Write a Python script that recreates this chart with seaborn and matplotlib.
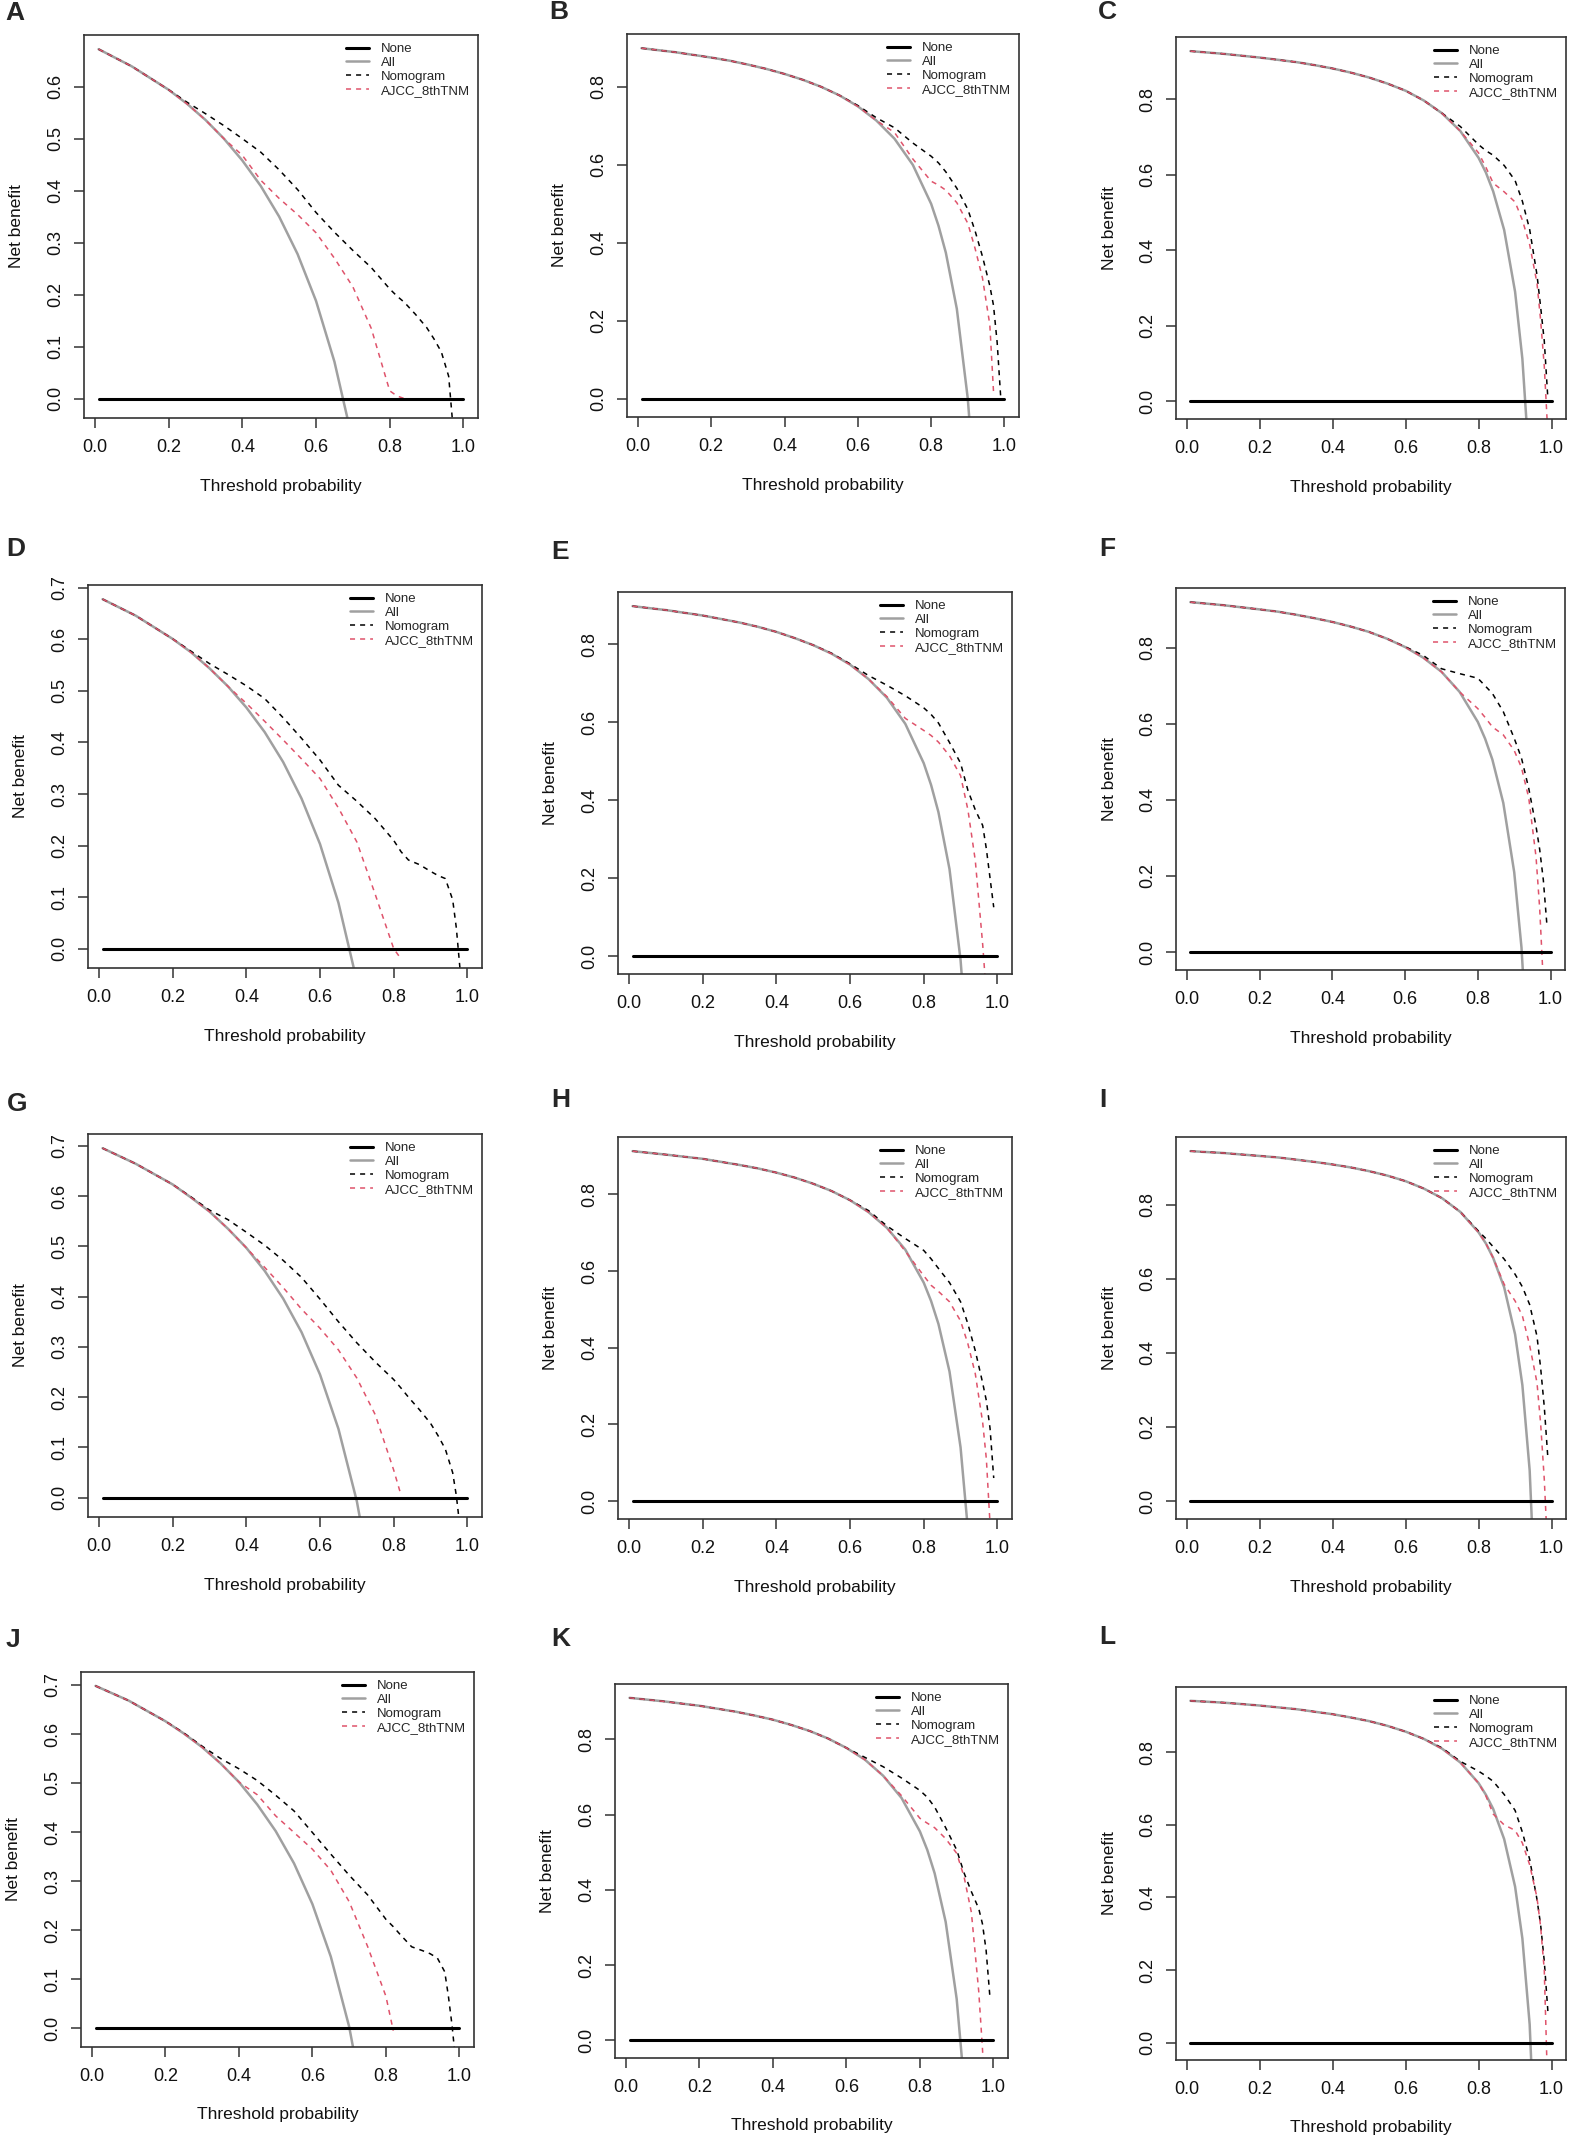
import numpy as np
import pandas as pd
import matplotlib
matplotlib.use("Agg")
import matplotlib.pyplot as plt
import seaborn as sns

N = np.nan

# ---------------- data ----------------
THRESHOLDS = [0.01, 0.1, 0.2, 0.25, 0.3, 0.35, 0.4, 0.45, 0.5, 0.55, 0.6, 0.65, 0.7,
              0.75, 0.8, 0.82, 0.84, 0.87, 0.9, 0.92, 0.94, 0.96, 0.97, 0.98, 0.99, 1.0]
SERIES = ["None", "All", "Nomogram", "AJCC_8thTNM"]
PANELS = ["A", "B", "C", "D", "E", "F", "G", "H", "I", "J", "K", "L"]

# Panel A
ALL_A = [0.672, 0.639, 0.594, 0.567, 0.536, 0.500, 0.458, 0.409, 0.350, 0.278, 0.188, 0.071, -0.083,
         N, N, N, N, N, N, N, N, N, N, N, N, N]
NOM_A = [0.672, 0.639, 0.594, 0.570, 0.548, 0.525, 0.500, 0.474, 0.440, 0.402, 0.358, 0.320, 0.285,
         0.252, 0.211, 0.197, 0.185, 0.162, 0.137, 0.115, 0.090, 0.043, -0.040, N, N, N]
AJCC_A = [0.672, 0.639, 0.594, 0.567, 0.536, 0.500, 0.468, 0.420, 0.385, 0.354, 0.319, 0.270, 0.215,
          0.135, 0.015, 0.005, 0.0, N, N, N, N, N, N, N, N, N]
# Panel B
ALL_B = [0.899, 0.889, 0.875, 0.867, 0.857, 0.846, 0.833, 0.818, 0.800, 0.778, 0.750, 0.714, 0.667,
         0.600, 0.500, 0.444, 0.375, 0.231, 0.000, -0.250, N, N, N, N, N, N]
NOM_B = [0.899, 0.889, 0.875, 0.867, 0.857, 0.846, 0.833, 0.818, 0.800, 0.778, 0.752, 0.721, 0.695,
         0.656, 0.622, 0.605, 0.582, 0.540, 0.486, 0.430, 0.365, 0.290, 0.240, 0.145, 0.000, N]
AJCC_B = [0.899, 0.889, 0.875, 0.867, 0.857, 0.846, 0.833, 0.818, 0.800, 0.778, 0.750, 0.714, 0.683,
          0.615, 0.558, 0.548, 0.535, 0.503, 0.450, 0.385, 0.310, 0.190, 0.020, N, N, N]
# Panel C
ALL_C = [0.928, 0.921, 0.911, 0.905, 0.899, 0.891, 0.882, 0.871, 0.858, 0.842, 0.823, 0.797, 0.763,
         0.716, 0.645, 0.606, 0.556, 0.454, 0.290, 0.112, -0.183, N, N, N, N, N]
NOM_C = [0.928, 0.921, 0.911, 0.905, 0.899, 0.891, 0.882, 0.871, 0.858, 0.842, 0.823, 0.797, 0.763,
         0.728, 0.680, 0.664, 0.652, 0.625, 0.585, 0.530, 0.455, 0.335, 0.250, 0.160, 0.005, N]
AJCC_C = [0.928, 0.921, 0.911, 0.905, 0.899, 0.891, 0.882, 0.871, 0.858, 0.842, 0.823, 0.797, 0.763,
          0.716, 0.658, 0.620, 0.578, 0.555, 0.528, 0.480, 0.415, 0.313, 0.215, 0.093, -0.090, N]
# Panel D
ALL_D = [0.678, 0.646, 0.601, 0.575, 0.544, 0.509, 0.468, 0.420, 0.362, 0.291, 0.203, 0.089, -0.063,
         N, N, N, N, N, N, N, N, N, N, N, N, N]
NOM_D = [0.678, 0.646, 0.601, 0.577, 0.553, 0.532, 0.510, 0.485, 0.448, 0.408, 0.366, 0.317, 0.286,
         0.252, 0.210, 0.188, 0.172, 0.163, 0.150, 0.142, 0.136, 0.095, 0.040, -0.040, N, N]
AJCC_D = [0.678, 0.646, 0.601, 0.575, 0.544, 0.509, 0.476, 0.441, 0.405, 0.368, 0.330, 0.273, 0.207,
          0.105, 0.0, -0.020, N, N, N, N, N, N, N, N, N, N]
# Panel E
ALL_E = [0.898, 0.888, 0.874, 0.865, 0.856, 0.845, 0.832, 0.816, 0.798, 0.776, 0.748, 0.711, 0.663,
         0.596, 0.495, 0.439, 0.369, 0.223, -0.010, -0.260, N, N, N, N, N, N]
NOM_E = [0.898, 0.888, 0.874, 0.865, 0.856, 0.845, 0.832, 0.816, 0.798, 0.777, 0.750, 0.720, 0.695,
         0.668, 0.637, 0.620, 0.598, 0.548, 0.495, 0.425, 0.375, 0.335, 0.275, 0.200, 0.125, N]
AJCC_E = [0.898, 0.888, 0.874, 0.865, 0.856, 0.845, 0.832, 0.816, 0.798, 0.776, 0.748, 0.711, 0.666,
          0.610, 0.579, 0.566, 0.549, 0.514, 0.463, 0.375, 0.245, 0.030, -0.100, N, N, N]
# Panel F
ALL_F = [0.920, 0.912, 0.901, 0.895, 0.887, 0.878, 0.868, 0.856, 0.842, 0.824, 0.802, 0.774, 0.737,
         0.684, 0.605, 0.561, 0.506, 0.392, 0.210, 0.012, -0.317, N, N, N, N, N]
NOM_F = [0.920, 0.912, 0.901, 0.895, 0.887, 0.878, 0.868, 0.856, 0.842, 0.824, 0.803, 0.780, 0.745,
         0.732, 0.720, 0.700, 0.680, 0.632, 0.562, 0.510, 0.430, 0.330, 0.270, 0.190, 0.070, N]
AJCC_F = [0.920, 0.912, 0.901, 0.895, 0.887, 0.878, 0.868, 0.856, 0.842, 0.824, 0.802, 0.774, 0.737,
          0.684, 0.640, 0.617, 0.592, 0.571, 0.530, 0.485, 0.405, 0.250, 0.115, -0.080, N, N]
# Panel G
ALL_G = [0.695, 0.664, 0.623, 0.597, 0.569, 0.535, 0.497, 0.451, 0.396, 0.329, 0.245, 0.137, -0.007,
         -0.208, N, N, N, N, N, N, N, N, N, N, N, N]
NOM_G = [0.695, 0.664, 0.623, 0.598, 0.572, 0.553, 0.528, 0.502, 0.472, 0.438, 0.395, 0.350, 0.308,
         0.270, 0.235, 0.218, 0.200, 0.175, 0.148, 0.124, 0.097, 0.050, 0.004, -0.060, N, N]
AJCC_G = [0.695, 0.664, 0.623, 0.597, 0.569, 0.535, 0.497, 0.458, 0.418, 0.375, 0.337, 0.294, 0.238,
          0.165, 0.055, 0.005, N, N, N, N, N, N, N, N, N, N]
# Panel H
ALL_H = [0.913, 0.904, 0.893, 0.885, 0.877, 0.868, 0.857, 0.844, 0.828, 0.809, 0.785, 0.754, 0.713,
         0.656, 0.570, 0.522, 0.462, 0.338, 0.140, -0.075, N, N, N, N, N, N]
NOM_H = [0.913, 0.904, 0.893, 0.885, 0.877, 0.868, 0.857, 0.844, 0.828, 0.809, 0.785, 0.758, 0.718,
         0.685, 0.654, 0.632, 0.607, 0.570, 0.520, 0.462, 0.392, 0.308, 0.262, 0.190, 0.060, N]
AJCC_H = [0.913, 0.904, 0.893, 0.885, 0.877, 0.868, 0.857, 0.844, 0.828, 0.809, 0.785, 0.754, 0.713,
          0.652, 0.588, 0.563, 0.547, 0.520, 0.470, 0.410, 0.332, 0.205, 0.110, -0.060, N, N]
# Panel I
ALL_I = [0.944, 0.939, 0.931, 0.927, 0.921, 0.915, 0.908, 0.900, 0.890, 0.878, 0.863, 0.843, 0.817,
         0.780, 0.725, 0.695, 0.656, 0.577, 0.450, 0.313, 0.083, -0.375, N, N, N, N]
NOM_I = [0.944, 0.939, 0.931, 0.927, 0.921, 0.915, 0.908, 0.900, 0.890, 0.878, 0.863, 0.843, 0.817,
         0.780, 0.728, 0.708, 0.686, 0.653, 0.612, 0.578, 0.530, 0.445, 0.360, 0.255, 0.115, N]
AJCC_I = [0.944, 0.939, 0.931, 0.927, 0.921, 0.915, 0.908, 0.900, 0.890, 0.878, 0.863, 0.843, 0.817,
          0.780, 0.725, 0.695, 0.656, 0.585, 0.540, 0.500, 0.420, 0.320, 0.210, 0.060, -0.150, N]
# Panel J
ALL_J = [0.698, 0.668, 0.626, 0.601, 0.573, 0.540, 0.502, 0.456, 0.402, 0.336, 0.253, 0.146, 0.003,
         -0.196, N, N, N, N, N, N, N, N, N, N, N, N]
NOM_J = [0.698, 0.668, 0.626, 0.602, 0.575, 0.550, 0.529, 0.505, 0.475, 0.443, 0.399, 0.355, 0.312,
         0.272, 0.222, 0.207, 0.190, 0.166, 0.158, 0.152, 0.143, 0.115, 0.065, 0.005, -0.070, N]
AJCC_J = [0.698, 0.668, 0.626, 0.601, 0.573, 0.540, 0.502, 0.476, 0.433, 0.399, 0.365, 0.322, 0.258,
          0.167, 0.065, -0.005, N, N, N, N, N, N, N, N, N, N]
# Panel K
ALL_K = [0.910, 0.901, 0.889, 0.881, 0.873, 0.863, 0.852, 0.838, 0.822, 0.802, 0.777, 0.746, 0.703,
         0.644, 0.555, 0.506, 0.444, 0.315, 0.110, -0.113, N, N, N, N, N, N]
NOM_K = [0.910, 0.901, 0.889, 0.881, 0.873, 0.863, 0.852, 0.838, 0.822, 0.802, 0.777, 0.752, 0.727,
         0.697, 0.664, 0.646, 0.620, 0.565, 0.506, 0.445, 0.395, 0.350, 0.310, 0.240, 0.120, N]
AJCC_K = [0.910, 0.901, 0.889, 0.881, 0.873, 0.863, 0.852, 0.838, 0.822, 0.802, 0.777, 0.746, 0.703,
          0.650, 0.590, 0.577, 0.565, 0.536, 0.497, 0.435, 0.340, 0.130, -0.020, -0.200, N, N]
# Panel L
ALL_L = [0.942, 0.937, 0.929, 0.924, 0.919, 0.912, 0.905, 0.896, 0.886, 0.873, 0.857, 0.837, 0.810,
         0.772, 0.715, 0.683, 0.644, 0.561, 0.430, 0.287, 0.050, -0.430, N, N, N, N]
NOM_L = [0.942, 0.937, 0.929, 0.924, 0.919, 0.912, 0.905, 0.896, 0.886, 0.873, 0.857, 0.837, 0.812,
         0.775, 0.748, 0.735, 0.720, 0.684, 0.640, 0.580, 0.505, 0.395, 0.325, 0.225, 0.085, N]
AJCC_L = [0.942, 0.937, 0.929, 0.924, 0.919, 0.912, 0.905, 0.896, 0.886, 0.873, 0.857, 0.837, 0.810,
          0.772, 0.715, 0.680, 0.630, 0.600, 0.585, 0.550, 0.490, 0.400, 0.320, 0.200, -0.150, N]

PANEL_DATA = {
    "A": (ALL_A, NOM_A, AJCC_A), "B": (ALL_B, NOM_B, AJCC_B), "C": (ALL_C, NOM_C, AJCC_C),
    "D": (ALL_D, NOM_D, AJCC_D), "E": (ALL_E, NOM_E, AJCC_E), "F": (ALL_F, NOM_F, AJCC_F),
    "G": (ALL_G, NOM_G, AJCC_G), "H": (ALL_H, NOM_H, AJCC_H), "I": (ALL_I, NOM_I, AJCC_I),
    "J": (ALL_J, NOM_J, AJCC_J), "K": (ALL_K, NOM_K, AJCC_K), "L": (ALL_L, NOM_L, AJCC_L),
}

# ---------------- layout / style ----------------
W, H = 1580, 2155
AXES_PX = {  # left, top, right, bottom in pixels
    "A": (84, 35, 478, 418), "B": (627, 34, 1019, 417), "C": (1176, 37, 1566, 419),
    "D": (88, 585, 482, 968), "E": (618, 592, 1012, 974), "F": (1176, 588, 1565, 970),
    "G": (88, 1134, 482, 1517), "H": (618, 1137, 1012, 1519), "I": (1176, 1137, 1566, 1519),
    "J": (81, 1672, 474, 2047), "K": (615, 1684, 1008, 2058), "L": (1176, 1687, 1566, 2060),
}
LETTER_PX = {
    "A": (5, 1), "B": (549, 0), "C": (1098, 0),
    "D": (6, 537), "E": (551, 540), "F": (1099, 537),
    "G": (7, 1092), "H": (551, 1088), "I": (1099, 1088),
    "J": (6, 1628), "K": (551, 1627), "L": (1099, 1625),
}
COLORS = {"None": "#000000", "All": "#a0a0a0", "Nomogram": "#000000", "AJCC_8thTNM": "#df536b"}
DASHES = {"None": "", "All": "", "Nomogram": (3.3, 3.3), "AJCC_8thTNM": (3.3, 3.3)}
WIDTHS = {"None": 2.2, "All": 1.8, "Nomogram": 1.1, "AJCC_8thTNM": 1.1}

sns.set_style("ticks")
plt.rcParams["font.family"] = ["Liberation Sans", "DejaVu Sans"]
plt.rcParams["axes.linewidth"] = 1.2
plt.rcParams["axes.edgecolor"] = "#333333"

fig = plt.figure(figsize=(W / 100, H / 100), dpi=100)
fig.patch.set_facecolor("white")

for key in PANELS:
    l, t, r, b = AXES_PX[key]
    ax = fig.add_axes([l / W, 1 - b / H, (r - l) / W, (b - t) / H])
    all_nb, nom_nb, ajcc_nb = PANEL_DATA[key]
    none_nb = [0.0] * len(THRESHOLDS)
    rows = []
    for s, vals in zip(SERIES, [none_nb, all_nb, nom_nb, ajcc_nb]):
        for tt, v in zip(THRESHOLDS, vals):
            if not np.isnan(v):
                rows.append((tt, v, s))
    df = pd.DataFrame(rows, columns=["Threshold", "NB", "Series"])

    sns.lineplot(data=df, x="Threshold", y="NB", hue="Series", style="Series", size="Series",
                 hue_order=SERIES, style_order=SERIES, size_order=SERIES,
                 palette=COLORS, dashes=DASHES, sizes=WIDTHS,
                 estimator=None, sort=True, legend=False, ax=ax)
    lines = ax.get_lines()[:4]
    lines[0].set_zorder(3)

    m = all_nb[0]
    span = m + 0.01
    lo, hi = -0.01 - 0.04 * span, m + 0.04 * span
    ax.set_ylim(lo, hi)
    ax.set_xlim(-0.0296, 1.0396)
    step = 0.1 if m < 0.8 else 0.2
    yt = np.round(np.arange(0, hi + 1e-9, step), 2)
    ax.set_yticks(yt)
    ax.set_yticklabels([f"{v:.1f}" for v in yt])
    xt = np.round(np.arange(0, 1.0001, 0.2), 2)
    ax.set_xticks(xt)
    ax.set_xticklabels([f"{v:.1f}" for v in xt])

    for sp in ax.spines.values():
        sp.set_visible(True)
        sp.set_color("#333333")
        sp.set_linewidth(1.2)
    ax.tick_params(direction="out", length=7, width=1.1, color="#333333",
                   labelsize=13, labelcolor="#111111")
    ax.tick_params(axis="x", pad=8)
    ax.tick_params(axis="y", pad=7)
    plt.setp(ax.get_yticklabels(), rotation=90, va="center", ha="right")

    ax.set_xlabel("Threshold probability", fontsize=12.5, color="#111111")
    ax.set_ylabel("Net benefit", fontsize=12.5, color="#111111")
    ax.xaxis.set_label_coords(0.5, -0.16)
    ax.yaxis.set_label_coords(-0.152, 0.5)

    ax.legend(lines, SERIES, loc="upper right", bbox_to_anchor=(1.0, 1.0), frameon=False,
              fontsize=9.5, handlelength=1.75, handletextpad=0.9, labelspacing=0.12,
              borderaxespad=0.3, borderpad=0.3)

    lx, ly = LETTER_PX[key]
    fig.text(lx / W, 1 - ly / H, key, ha="left", va="top", fontsize=19, fontweight="bold")

fig.savefig("out.png", dpi=100, facecolor="white")
